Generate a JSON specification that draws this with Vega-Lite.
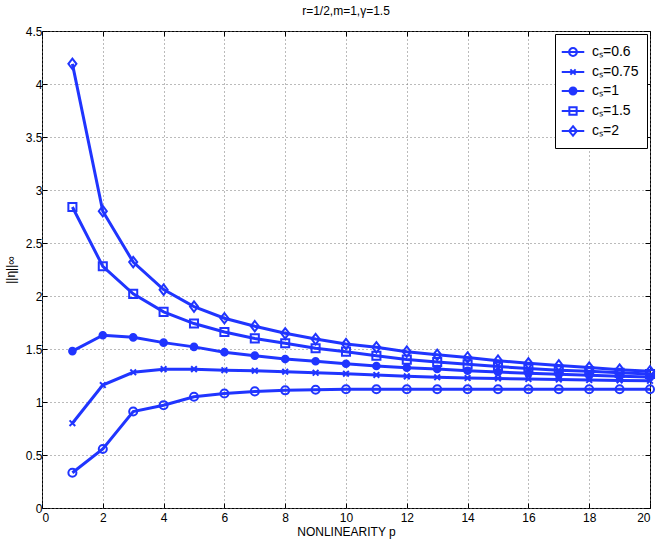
{
  "$schema": "https://vega.github.io/schema/vega-lite/v6.json",
  "width": 608,
  "height": 477,
  "autosize": "none",
  "padding": {"left": 42, "top": 31, "right": 14, "bottom": 37},
  "background": "white",
  "title": {"text": "r=1/2,m=1,γ=1.5", "fontSize": 12, "fontWeight": "normal", "font": "Liberation Sans", "offset": 7, "color": "black"},
  "config": {
    "view": {"stroke": "black", "strokeWidth": 1},
    "font": "Liberation Sans",
    "axis": {
      "domain": false,
      "labelFont": "Liberation Sans",
      "labelFontSize": 12,
      "labelColor": "black",
      "titleFont": "Liberation Sans",
      "titleFontSize": 12,
      "titleFontWeight": "normal",
      "titleColor": "black",
      "tickColor": "black",
      "tickSize": -5,
      "gridColor": "#777777",
      "gridDash": [1, 3],
      "gridOpacity": 1
    }
  },
  "data": {"values": [
    {"p":1,"v":0.333,"s":"0.6"},{"p":2,"v":0.557,"s":"0.6"},{"p":3,"v":0.91,"s":"0.6"},{"p":4,"v":0.97,"s":"0.6"},{"p":5,"v":1.05,"s":"0.6"},
    {"p":6,"v":1.08,"s":"0.6"},{"p":7,"v":1.10,"s":"0.6"},{"p":8,"v":1.11,"s":"0.6"},{"p":9,"v":1.115,"s":"0.6"},{"p":10,"v":1.12,"s":"0.6"},
    {"p":11,"v":1.12,"s":"0.6"},{"p":12,"v":1.12,"s":"0.6"},{"p":13,"v":1.12,"s":"0.6"},{"p":14,"v":1.12,"s":"0.6"},{"p":15,"v":1.12,"s":"0.6"},
    {"p":16,"v":1.12,"s":"0.6"},{"p":17,"v":1.12,"s":"0.6"},{"p":18,"v":1.12,"s":"0.6"},{"p":19,"v":1.12,"s":"0.6"},{"p":20,"v":1.12,"s":"0.6"},
    {"p":1,"v":0.80,"s":"0.75"},{"p":2,"v":1.16,"s":"0.75"},{"p":3,"v":1.28,"s":"0.75"},{"p":4,"v":1.31,"s":"0.75"},{"p":5,"v":1.31,"s":"0.75"},
    {"p":6,"v":1.30,"s":"0.75"},{"p":7,"v":1.295,"s":"0.75"},{"p":8,"v":1.286,"s":"0.75"},{"p":9,"v":1.276,"s":"0.75"},{"p":10,"v":1.267,"s":"0.75"},
    {"p":11,"v":1.255,"s":"0.75"},{"p":12,"v":1.242,"s":"0.75"},{"p":13,"v":1.233,"s":"0.75"},{"p":14,"v":1.226,"s":"0.75"},{"p":15,"v":1.222,"s":"0.75"},
    {"p":16,"v":1.217,"s":"0.75"},{"p":17,"v":1.212,"s":"0.75"},{"p":18,"v":1.207,"s":"0.75"},{"p":19,"v":1.203,"s":"0.75"},{"p":20,"v":1.20,"s":"0.75"},
    {"p":1,"v":1.48,"s":"1"},{"p":2,"v":1.63,"s":"1"},{"p":3,"v":1.61,"s":"1"},{"p":4,"v":1.56,"s":"1"},{"p":5,"v":1.52,"s":"1"},
    {"p":6,"v":1.47,"s":"1"},{"p":7,"v":1.437,"s":"1"},{"p":8,"v":1.405,"s":"1"},{"p":9,"v":1.384,"s":"1"},{"p":10,"v":1.361,"s":"1"},
    {"p":11,"v":1.34,"s":"1"},{"p":12,"v":1.324,"s":"1"},{"p":13,"v":1.311,"s":"1"},{"p":14,"v":1.295,"s":"1"},{"p":15,"v":1.283,"s":"1"},
    {"p":16,"v":1.272,"s":"1"},{"p":17,"v":1.262,"s":"1"},{"p":18,"v":1.252,"s":"1"},{"p":19,"v":1.243,"s":"1"},{"p":20,"v":1.235,"s":"1"},
    {"p":1,"v":2.84,"s":"1.5"},{"p":2,"v":2.28,"s":"1.5"},{"p":3,"v":2.02,"s":"1.5"},{"p":4,"v":1.85,"s":"1.5"},{"p":5,"v":1.74,"s":"1.5"},
    {"p":6,"v":1.66,"s":"1.5"},{"p":7,"v":1.60,"s":"1.5"},{"p":8,"v":1.554,"s":"1.5"},{"p":9,"v":1.507,"s":"1.5"},{"p":10,"v":1.475,"s":"1.5"},
    {"p":11,"v":1.437,"s":"1.5"},{"p":12,"v":1.40,"s":"1.5"},{"p":13,"v":1.377,"s":"1.5"},{"p":14,"v":1.355,"s":"1.5"},{"p":15,"v":1.335,"s":"1.5"},
    {"p":16,"v":1.315,"s":"1.5"},{"p":17,"v":1.30,"s":"1.5"},{"p":18,"v":1.29,"s":"1.5"},{"p":19,"v":1.275,"s":"1.5"},{"p":20,"v":1.265,"s":"1.5"},
    {"p":1,"v":4.19,"s":"2"},{"p":2,"v":2.80,"s":"2"},{"p":3,"v":2.32,"s":"2"},{"p":4,"v":2.06,"s":"2"},{"p":5,"v":1.90,"s":"2"},
    {"p":6,"v":1.79,"s":"2"},{"p":7,"v":1.715,"s":"2"},{"p":8,"v":1.648,"s":"2"},{"p":9,"v":1.594,"s":"2"},{"p":10,"v":1.547,"s":"2"},
    {"p":11,"v":1.516,"s":"2"},{"p":12,"v":1.475,"s":"2"},{"p":13,"v":1.445,"s":"2"},{"p":14,"v":1.42,"s":"2"},{"p":15,"v":1.39,"s":"2"},
    {"p":16,"v":1.365,"s":"2"},{"p":17,"v":1.345,"s":"2"},{"p":18,"v":1.325,"s":"2"},{"p":19,"v":1.305,"s":"2"},{"p":20,"v":1.29,"s":"2"}
  ]},
  "layer": [
    {
      "mark": {"type": "line", "color": "#2035ff", "strokeWidth": 3},
      "encoding": {
        "x": {"field": "p", "type": "quantitative", "scale": {"domain": [0, 20]},
              "axis": {"orient": "top", "labels": false, "grid": false, "title": null, "values": [0,2,4,6,8,10,12,14,16,18,20]}},
        "y": {"field": "v", "type": "quantitative", "scale": {"domain": [0, 4.5]},
              "axis": {"orient": "right", "labels": false, "grid": false, "title": null, "values": [0,0.5,1,1.5,2,2.5,3,3.5,4,4.5]}},
        "detail": {"field": "s"}
      }
    },
    {
      "mark": {"type": "point", "stroke": "#2035ff", "strokeWidth": 2, "size": 90, "opacity": 1},
      "encoding": {
        "x": {"field": "p", "type": "quantitative", "scale": {"domain": [0, 20]},
              "axis": {"orient": "bottom", "grid": true, "title": "NONLINEARITY p", "titlePadding": 3, "labelPadding": 9, "values": [0,2,4,6,8,10,12,14,16,18,20]}},
        "y": {"field": "v", "type": "quantitative", "scale": {"domain": [0, 4.5]},
              "axis": {"orient": "left", "grid": true, "title": "||η||∞", "titlePadding": 8, "labelPadding": 5, "values": [0,0.5,1,1.5,2,2.5,3,3.5,4,4.5], "labelExpr": "'' + datum.value"}},
        "shape": {"field": "s", "type": "nominal",
          "scale": {"domain": ["0.6","0.75","1","1.5","2"],
                    "range": ["M0.85,0A0.85,0.85,0,1,1,-0.85,0A0.85,0.85,0,1,1,0.85,0Z",
                              "M-0.6,-0.6L0.6,0.6M-0.6,0.6L0.6,-0.6",
                              "M0.7,0A0.7,0.7,0,1,1,-0.7,0A0.7,0.7,0,1,1,0.7,0Z",
                              "M-0.85,-0.85H0.85V0.85H-0.85Z",
                              "M0,-1.1L0.85,0L0,1.1L-0.85,0Z"]},
          "legend": null},
        "fill": {"field": "s", "type": "nominal",
          "scale": {"domain": ["0.6","0.75","1","1.5","2"], "range": ["transparent","transparent","#2035ff","transparent","transparent"]},
          "legend": null}
      }
    },
    {
      "transform": [{"filter": "datum.p < 0"}],
      "mark": {"type": "point", "color": "#2035ff", "stroke": "#2035ff", "filled": false, "strokeWidth": 2, "size": 90, "opacity": 1},
      "encoding": {
        "x": {"field": "p", "type": "quantitative", "scale": {"domain": [0, 20]}, "axis": null},
        "y": {"field": "v", "type": "quantitative", "scale": {"domain": [0, 4.5]}, "axis": null},
        "shape": {"field": "s", "type": "nominal",
          "scale": {"domain": ["0.6","0.75","1","1.5","2"],
                    "range": ["M-1.3,0H1.3M0.45,0A0.45,0.45,0,1,1,-0.45,0A0.45,0.45,0,1,1,0.45,0Z",
                              "M-1.3,0H1.3M-0.3,-0.3L0.3,0.3M-0.3,0.3L0.3,-0.3",
                              "M-1.3,0H1.3M0.4,0A0.4,0.4,0,1,1,-0.4,0A0.4,0.4,0,1,1,0.4,0ZM0.25,0A0.25,0.25,0,1,1,-0.25,0A0.25,0.25,0,1,1,0.25,0ZM0.1,0A0.1,0.1,0,1,1,-0.1,0A0.1,0.1,0,1,1,0.1,0Z",
                              "M-1.3,0H1.3M-0.42,-0.42H0.42V0.42H-0.42Z",
                              "M-1.3,0H1.3M0,-0.55L0.45,0L0,0.55L-0.45,0Z"]},
          "legend": {
            "title": null,
            "orient": "top-right",
            "offset": 3,
            "padding": 8,
            "rowPadding": 2,
            "strokeColor": "black",
            "fillColor": "white",
            "symbolSize": 300,
            "symbolStrokeWidth": 2,
            "symbolStrokeColor": "#2035ff",
            "symbolOpacity": 1,
            "labelFont": "Liberation Sans",
            "labelFontSize": 14,
            "labelColor": "black",
            "labelOffset": 9,
            "labelExpr": "'cₛ=' + datum.label"
          }
        }
      }
    }
  ],
  "resolve": {"axis": {"x": "independent", "y": "independent"}, "scale": {"shape": "independent"}, "legend": {"shape": "independent"}}
}
